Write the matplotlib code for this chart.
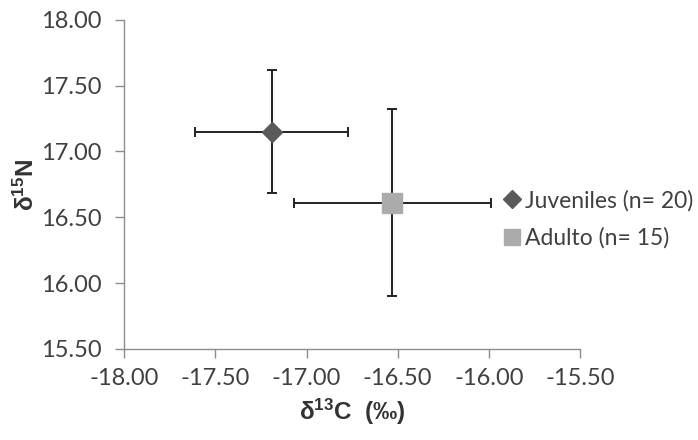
import matplotlib.pyplot as plt

plt.rcParams["mathtext.default"] = "regular"

# mean +/- sd for each group
groups = ["Juveniles (n= 20)", "Adulto (n= 15)"]
d13c = [-17.19, -16.53]
d13c_sd = [0.42, 0.54]
d15n = [17.15, 16.61]
d15n_sd = [0.465, 0.71]

markers = ["D", "s"]
colors = ["#5a5a5a", "#ababab"]
sizes = [10, 14.5]
legend_sizes = [9, 11]

fig = plt.figure(figsize=(6.98, 4.4), dpi=100)
ax = fig.add_axes([0.178, 0.207, 0.653, 0.748])

for i in range(len(groups)):
    ax.errorbar(d13c[i], d15n[i], xerr=d13c_sd[i], yerr=d15n_sd[i],
                fmt="none", ecolor="#222222", elinewidth=1.4, capsize=3.5,
                capthick=1.4, zorder=2)
    ax.plot(d13c[i], d15n[i], marker=markers[i], color=colors[i],
            markersize=sizes[i], linestyle="none", label=groups[i], zorder=3)

ax.set_xlim(-18, -15.5)
ax.set_ylim(15.5, 18)
ax.set_xticks([-18, -17.5, -17, -16.5, -16, -15.5])
ax.set_yticks([15.5, 16, 16.5, 17, 17.5, 18])
ax.xaxis.set_major_formatter(plt.FormatStrFormatter("%.2f"))
ax.yaxis.set_major_formatter(plt.FormatStrFormatter("%.2f"))

for side in ["top", "right"]:
    ax.spines[side].set_visible(False)
for side in ["left", "bottom"]:
    ax.spines[side].set_color("#8c8c8c")
    ax.spines[side].set_linewidth(1.0)
ax.tick_params(colors="#8c8c8c", length=6.5, width=1.0, labelcolor="#404040",
               labelsize=17)
for lab in ax.get_xticklabels() + ax.get_yticklabels():
    lab.set_family("Lato")
ax.tick_params(axis="y", pad=10)
ax.tick_params(axis="x", pad=7)

ax.set_xlabel(r"δ$^{13}$C  (‰)", fontsize=17.5, fontweight="bold",
              family="Liberation Sans", color="#333333", labelpad=6)
ax.set_ylabel(r"δ$^{15}$N", fontsize=17.5, fontweight="bold",
              family="Liberation Sans", color="#333333", labelpad=1)

leg = fig.legend(loc="center left", bbox_to_anchor=(0.719, 0.5014),
                 frameon=False, prop={"family": "Lato", "size": 16.5},
                 labelcolor="#404040", handletextpad=0.1, handlelength=0.9,
                 labelspacing=0.7, borderpad=0, borderaxespad=0)
for h, s in zip(leg.legend_handles, legend_sizes):
    h.set_markersize(s)

fig.savefig("out.png", dpi=100)
